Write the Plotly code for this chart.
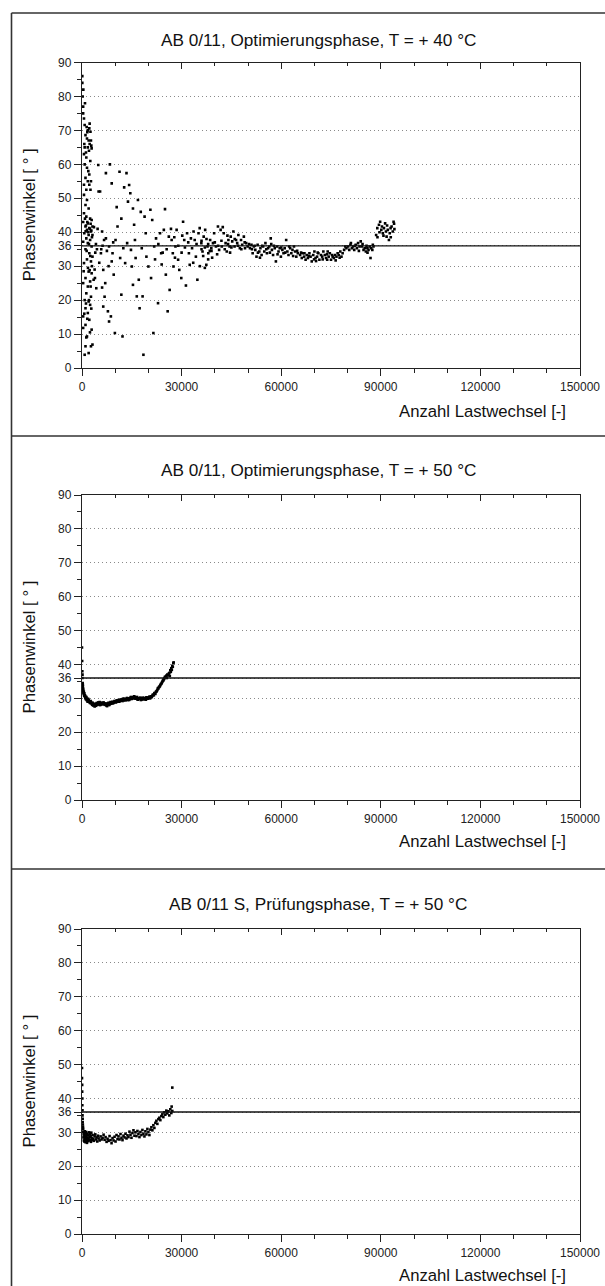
import plotly.graph_objects as go

# ---------------- data ----------------
titles = [
    "AB 0/11, Optimierungsphase, T = + 40 °C",
    "AB 0/11, Optimierungsphase, T = + 50 °C",
    "AB 0/11 S, Prüfungsphase, T = + 50 °C",
]
x_title = "Anzahl Lastwechsel [-]"
y_title = "Phasenwinkel [ ° ]"
x_ticks = [0, 30000, 60000, 90000, 120000, 150000]
y_ticks = [0, 10, 20, 30, 36, 40, 50, 60, 70, 80, 90]
reference_angle = 36

# panel 1: AB 0/11, +40 °C  (Lastwechsel, Phasenwinkel)
panel1 = [
    (100, 86), (100, 84), (350, 77), (350, 75), (600, 73.5), (800, 71.6), (1400, 71), (1750, 70),
    (2200, 70.6), (2550, 69.6), (1050, 68.6), (1500, 67.6), (2000, 67), (2700, 67), (800, 65),
    (1750, 65), (2300, 66), (2900, 64.7), (600, 63), (1300, 62), (800, 60), (1500, 59), (2200, 57),
    (1050, 56), (2700, 55), (1750, 55), (2200, 54), (1300, 52.5), (2550, 52.5), (600, 51),
    (1500, 49.5), (1050, 48), (2000, 47), (600, 45.6), (1300, 44.6), (2450, 44), (350, 43),
    (1750, 42.6), (2900, 43.6), (1050, 41.7), (2200, 41.2), (3150, 41.7), (1500, 40.7), (2700, 40.2),
    (700, 39.7), (2000, 39.2), (3150, 39.2), (1300, 38.2), (2450, 37.7), (350, 37.2), (1750, 36.8),
    (2900, 35.8), (1050, 35), (2200, 33.8), (3150, 32.8), (1500, 32), (2700, 31.4), (600, 30.9),
    (2000, 28.4), (2900, 27.9), (1050, 26.5), (2450, 25.5), (350, 25), (1750, 24), (1300, 22),
    (2700, 21), (800, 20), (2000, 19.6), (2450, 18.6), (1050, 17.6), (1750, 16.2), (350, 15.2),
    (2200, 14.2), (1050, 12.7), (2900, 11.3), (350, 11.8), (1500, 9.3), (1050, 6.4), (2700, 6.4),
    (800, 3.9), (2000, 4.4), (3150, 6.9),
    (1200, 42), (1600, 43), (2400, 41), (2800, 40.5), (900, 44), (1900, 40), (2600, 42.5),
    (1100, 40.3), (3000, 38.5), (2100, 36.5), (1400, 34.5), (2500, 33), (3000, 30), (1800, 29.5),
    (2300, 28.8), (500, 28.5), (2600, 24), (1200, 19), (2100, 20), (2800, 17.5), (700, 16),
    (1600, 14.5), (2400, 10.5), (1300, 9), (600, 54), (1900, 58), (2500, 61), (1200, 63.5),
    (700, 66), (1600, 69.5), (2300, 72), (900, 78), (200, 80), (400, 82), (2800, 65.5), (2100, 64),
    (4900, 59.8), (5450, 52), (6050, 40.2), (5700, 33.8), (6650, 37.7), (6400, 28.9), (6050, 23.7),
    (6400, 18.1), (7200, 38.2), (7200, 57.4), (8400, 60), (8950, 54.4), (7800, 16.7), (8150, 13.7),
    (8700, 15.2), (8150, 35.8), (8950, 31.4), (9550, 27.5), (9200, 33.8), (9900, 10.3),
    (4000, 34), (4500, 35), (3500, 26), (3800, 29), (4200, 36.5), (5000, 52), (3600, 41.5),
    (4700, 41), (5200, 31), (5800, 35), (6200, 36), (7500, 34.5), (8000, 30), (9400, 37),
    (7000, 25), (6800, 21), (4300, 23.5), (3900, 26.5),
    (10100, 37.7), (10450, 47.4), (10700, 41.7), (11300, 57.8), (11850, 44), (11500, 32.4),
    (11850, 21.6), (12200, 9.3), (12450, 35.3), (12700, 53.2), (13000, 30.9), (13400, 57.4),
    (13600, 36.8), (13850, 49), (14200, 53.9), (14550, 51.5), (14750, 34.8), (15000, 29.9),
    (15350, 47), (15350, 24.5), (15700, 42.2), (15950, 37.7), (16150, 32.4), (16500, 21.1),
    (16850, 49.5), (17100, 26), (17350, 17.6), (17700, 46), (18000, 35.3), (18250, 21.1),
    (18500, 3.9), (18850, 44.6), (19200, 39.7), (19400, 32.8), (20000, 29.9),
    (20600, 46.6), (21150, 43.6), (20800, 26.5), (21500, 10.3), (21750, 35.8), (22300, 38.2),
    (22900, 19.1), (23500, 39.7), (23850, 33.8), (24650, 40.7), (25000, 46.8), (25250, 27.5),
    (25800, 16.7), (26150, 38.7), (26400, 23), (27000, 37.7), (27350, 33.8), (27550, 29.9),
    (28150, 35.8), (28500, 40.7), (28950, 31.9), (29300, 28.9), (29900, 26.5), (30450, 43.1),
    (30800, 37.7), (31300, 24.3), (31650, 39.7), (32200, 33.8), (32450, 30.4), (32800, 38.2),
    (33150, 35.3), (33600, 40.2), (33950, 37.7), (34300, 32.8), (34750, 26), (35100, 39.7),
    (22000, 32), (23000, 36.5), (24000, 30.5), (25500, 35), (26800, 41), (27800, 38.5), (29000, 36),
    (30000, 34), (31000, 35.5), (32000, 37), (33500, 31), (34500, 36.5), (24300, 34), (28000, 32.5),
    (30200, 39), (36000, 35), (35500, 30), (37000, 29.5), (36500, 33), (37500, 38), (38000, 32),
    (38500, 34.5),
    (35450, 41.2), (35950, 36.8), (36300, 34.3), (36650, 38.7), (37100, 40.7), (37450, 30.4),
    (37800, 35.8), (38050, 33.8), (38600, 37.7), (38950, 35.3), (39450, 36.8), (39800, 39.7),
    (40350, 35.8), (40950, 41.7), (41300, 34.8), (41750, 40.7), (42100, 35.8), (42700, 39.7),
    (43250, 36.8), (43600, 34.3), (44100, 37.7), (44450, 35.8), (44800, 38.7), (45250, 37.3),
    (45600, 40.2), (45950, 35.8), (46400, 37.7), (46750, 36.8), (47100, 39.2), (47550, 35.3),
    (47900, 37.7), (48250, 36.3), (48750, 38.7), (49100, 35.3), (49450, 36.8), (49900, 35.8),
    (36000, 37.5), (37000, 35.5), (38000, 36.5), (39000, 34.5), (40000, 37), (41000, 36),
    (42000, 37.5), (43000, 35), (44000, 36.5), (45000, 35.5), (46000, 38), (47000, 36), (48000, 35),
    (49000, 37), (42400, 41.5), (43800, 39), (39200, 32.5), (40700, 33.5), (44600, 34),
    (50600, 35.3), (51050, 36.3), (51400, 33.8), (51750, 35.8), (52200, 34.8), (52550, 32.8),
    (52900, 36.3), (53400, 34.3), (53750, 35.3), (54100, 33.3), (54550, 35.8), (54900, 34.3),
    (55250, 36.8), (55700, 33.8), (56050, 35.3), (56400, 35.8), (56850, 38.2), (57200, 34.8),
    (57550, 33.3), (58050, 35.3), (58400, 31.4), (58750, 35.8), (59200, 34.3), (59550, 35.3),
    (59900, 32.8), (60350, 34.8), (60700, 33.8), (61050, 35.3), (61500, 37.7), (61850, 34.3),
    (62200, 33.3), (62700, 35.3), (63050, 33.8), (63400, 34.8), (63850, 35.8), (64200, 34.3),
    (64550, 32.8), (65000, 33.8),
    (50300, 36.5), (51200, 35), (52000, 36), (53000, 34), (54300, 36), (55500, 35), (56600, 34),
    (57800, 36), (58900, 33.5), (60000, 35.5), (61200, 34), (62400, 35.8), (63600, 33), (64800, 34.5),
    (53600, 32.5), (57000, 36.5),
    (65700, 33.3), (66200, 32.4), (66500, 33.8), (66900, 32.8), (67350, 31.9), (67700, 33.3),
    (68050, 32.4), (68500, 33.8), (68850, 32.8), (69200, 31.4), (69650, 33.3), (70000, 34.3),
    (70350, 32.4), (70800, 32.8), (71200, 33.8), (71500, 31.9), (72000, 33.3), (72350, 32.8),
    (72700, 34.3), (73150, 33.3), (73500, 32.4), (73850, 31.9), (74300, 32.8), (74650, 33.8),
    (75000, 31.9), (75500, 32.8), (75850, 32.4), (76200, 33.3), (76650, 32.8), (77000, 33.8),
    (77350, 33.3), (77800, 34.3), (78150, 32.8), (78500, 33.8), (78950, 34.8), (79300, 35.8),
    (79650, 35.3),
    (66000, 34), (67000, 33.8), (68300, 33), (69900, 32), (71000, 34), (72500, 32), (73800, 33.5),
    (75300, 33.3), (76400, 31.7), (77600, 32.5), (74000, 34.3), (70500, 31.5),
    (80150, 35.8), (80500, 34.8), (80850, 36.3), (81300, 35.3), (81650, 35.8), (82000, 34.8),
    (82450, 36.3), (82800, 35.3), (83150, 36.8), (83600, 35.8), (83950, 37.3), (84300, 35.8),
    (84800, 34.8), (85150, 35.3), (85500, 34.3), (85950, 35.3), (86300, 34.8), (86650, 35.8),
    (86900, 32.4), (87100, 35.3), (87450, 34.8), (87800, 35.8),
    (81000, 36.8), (82200, 36), (83400, 34.5), (84500, 36.5), (85700, 36), (86000, 34), (87600, 36.3),
    (88600, 39.2), (88950, 41.2), (89450, 42.2), (89800, 43.1), (90150, 40.7), (90350, 41.7),
    (90600, 39.7), (90950, 41.2), (91300, 42.6), (91550, 40.2), (91750, 38.7), (92100, 40.7),
    (92450, 37.7), (92700, 39.7), (92950, 41.2), (93250, 41.7), (93600, 40.2), (93850, 43.1),
    (94100, 40.9), (89000, 38.5), (89600, 40), (90800, 39), (91900, 42), (93000, 38.5), (94000, 42.5),
]

# panel 2: AB 0/11, +50 °C
panel2 = [
    (0, 45), (50, 41), (100, 38), (150, 36), (200, 34.5), (250, 33.5), (300, 33), (400, 32.2),
    (500, 31.8), (600, 31.2), (700, 31.5), (800, 30.6), (1000, 30.2), (1200, 30.5), (1400, 29.6),
    (1600, 29.9), (1800, 29.2), (2000, 29.5), (2300, 28.8), (2600, 29.2), (2900, 28.4), (3200, 28.7),
    (3500, 28.0), (3800, 27.6), (4100, 28.3), (4400, 28.6), (4700, 28.1), (5000, 28.5), (5300, 28.9),
    (5600, 28.2), (5900, 28.6), (6200, 28.4), (6500, 28.8), (6800, 28.1), (7100, 28.5), (7400, 27.9),
    (7700, 28.4), (8000, 28.7), (8300, 28.2), (8600, 28.9), (8900, 28.6), (9200, 29.0), (9500, 28.7),
    (9800, 29.2), (10100, 28.9), (10400, 29.3), (10700, 29.0), (11000, 29.5), (11300, 29.1),
    (11600, 29.4), (11900, 29.7), (12200, 29.2), (12500, 29.6), (12800, 29.9), (13100, 29.4),
    (13400, 29.8), (13700, 29.5), (14000, 30.0), (14300, 29.7), (14600, 30.2), (14900, 29.8),
    (15200, 30.3), (15500, 30.0), (15800, 30.5), (16100, 29.9), (16400, 30.2), (16700, 29.7),
    (17000, 30.0), (17300, 29.8), (17600, 30.2), (17900, 29.6), (18200, 30.0), (18500, 29.7),
    (18800, 30.1), (19100, 29.8), (19400, 30.3), (19700, 30.0), (20000, 30.2), (20300, 30.5),
    (20600, 30.1), (20900, 30.4), (21200, 30.8), (21500, 31.0), (21800, 31.5), (22100, 31.3),
    (22400, 32.0), (22700, 32.5), (23000, 32.9), (23300, 33.4), (23600, 33.9), (23900, 34.3),
    (24200, 34.9), (24500, 35.3), (24800, 35.9), (25100, 36.2), (25400, 36.7), (25700, 37.0),
    (26000, 36.8), (26300, 37.5), (26600, 38.3), (26900, 38.9), (27200, 39.6), (27500, 40.4),
    (150, 37), (250, 34), (350, 32.6), (450, 31.5), (550, 31.9), (650, 30.8), (900, 30.9),
    (1100, 29.8), (1300, 30.3), (1500, 29.4), (1700, 29.0), (1900, 29.8), (2150, 29.0), (2450, 28.6),
    (2750, 28.9), (3050, 28.1), (3350, 27.9), (3650, 28.4), (3950, 28.0), (4250, 27.8), (4550, 28.4),
    (4850, 28.8), (5150, 28.3), (5450, 28.0), (5750, 28.7), (6050, 28.2), (6350, 28.6), (6650, 28.5),
    (6950, 28.3), (7250, 28.0), (7550, 27.7), (7850, 28.5), (8150, 28.0), (8450, 28.6), (8750, 28.4),
    (9050, 28.8), (9350, 28.5), (9650, 28.9), (9950, 29.1), (10250, 28.8), (10550, 29.4),
    (10850, 29.2), (11150, 29.0), (11450, 29.6), (11750, 29.3), (12050, 29.5), (12350, 29.9),
    (12650, 29.4), (12950, 29.7), (13250, 29.6), (13550, 30.1), (13850, 29.8), (14150, 29.5),
    (14450, 30.0), (14750, 30.4), (15050, 29.9), (15350, 30.1), (15650, 30.6), (15950, 30.3),
    (16250, 29.9), (16550, 30.4), (16850, 29.6), (17150, 30.1), (17450, 29.9), (17750, 29.5),
    (18050, 29.9), (18350, 30.2), (18650, 29.8), (18950, 30.0), (19250, 29.6), (19550, 30.1),
    (19850, 29.9), (20150, 30.3), (20450, 30.0), (20750, 30.6), (21050, 30.4), (21350, 31.1),
    (21650, 30.9), (21950, 31.6), (22250, 31.9), (22550, 32.2), (22850, 33.0), (23150, 33.3),
    (23450, 33.6), (23750, 34.2), (24050, 34.6), (24350, 35.2), (24650, 35.6), (24950, 36.3),
    (25250, 36.5), (25550, 36.0), (25850, 36.9), (26150, 37.3), (26450, 36.6), (26750, 37.8),
    (27050, 38.4), (27350, 39.3), (27600, 40.6),
]

# panel 3: AB 0/11 S, +50 °C
panel3 = [
    (0, 49), (0, 46), (50, 44), (50, 42), (100, 40), (100, 38), (150, 36.5), (150, 35), (200, 34),
    (200, 33), (250, 32.3), (300, 31.6), (350, 31),
    (400, 30.2), (450, 28.5), (500, 29.4), (550, 27.6), (600, 30), (650, 28.8), (700, 27.3),
    (750, 29.6), (800, 28.2), (850, 30.3), (900, 27.8), (950, 29), (1000, 28.4), (1050, 27.1),
    (1100, 29.8), (1150, 28.6), (1200, 27.5), (1250, 30.1), (1300, 28.9), (1350, 27.9), (1400, 29.3),
    (1450, 28.1), (1500, 26.9), (1600, 29.6), (1700, 28.4), (1800, 27.4), (1900, 29.1), (2000, 28),
    (2100, 30), (2200, 27.6), (2300, 28.7), (2400, 29.5), (2500, 27.8), (2600, 28.9), (2700, 27.2),
    (2800, 29.9), (2900, 28.3), (3000, 27.7), (3200, 29.2), (3400, 28.1), (3600, 27.5), (3800, 28.8),
    (4000, 29.4), (4200, 27.9), (4400, 28.5), (4600, 27.3), (4800, 29), (5000, 28.2),
    (5300, 27.6), (5600, 28.8), (5900, 27.9), (6200, 28.4), (6500, 29.3), (6800, 27.8), (7100, 28.6),
    (7400, 27.2), (7700, 28.1), (8000, 27.5), (8300, 28.9), (8600, 27.7), (8900, 26.8), (9200, 28.3),
    (9500, 27.6), (9800, 28.7), (10100, 27.3), (10400, 29.2), (10700, 28), (11000, 28.8),
    (11300, 27.9), (11600, 29.5), (11900, 28.4), (12200, 27.7), (12500, 29),
    (12800, 28.5), (13100, 29.6), (13400, 28.2), (13700, 29.1), (14000, 28.6), (14300, 30.2),
    (14600, 29.3), (14900, 28.4), (15200, 29.8), (15500, 30.6), (15800, 29), (16100, 30),
    (16400, 28.9), (16700, 30.4), (17000, 29.5), (17300, 28.6), (17600, 30.1), (17900, 29.2),
    (18200, 30.7), (18500, 29.6), (18800, 28.8), (19100, 30.3), (19400, 29.4), (19700, 31),
    (20000, 30.1), (20300, 29.2), (20600, 30.8),
    (20900, 31.5), (21200, 30.6), (21500, 32.1), (21800, 31.3), (22100, 32.8), (22400, 33.4),
    (22700, 32.5), (23000, 33.9), (23300, 34.3), (23600, 33.6), (23900, 34.8), (24200, 35.3),
    (24500, 34.5), (24800, 35.9), (25100, 35.2), (25400, 36.4), (25700, 35.6), (26000, 36.2),
    (26300, 35), (26600, 36.8), (26900, 35.7), (27000, 37.6), (27200, 36.3), (27200, 43.2),
]
panels = [panel1, panel2, panel3]

# ---------------- layout geometry (pixels of the 605 x 1286 page) ----------------
W, H = 605, 1286
PX_LEFT, PX_RIGHT = 82, 580
PX_TOP = [62.5, 495, 929]        # y = 90
PX_BOTTOM = [368, 800, 1234]     # y = 0
PX_TITLE = [40, 469.5, 903.5]
PX_XLABEL = [411.5, 841.5, 1275.5]
PX_SEPARATORS = [436, 869]
FRAME_LEFT, FRAME_TOP = 11.5, 13

def px(xp):
    return xp / W

def py(yp):
    return 1 - yp / H

FONT = "Liberation Sans, Arial, Helvetica, sans-serif"
AX_COLOR = "#222222"

fig = go.Figure()
layout = dict(
    width=W, height=H, margin=dict(l=0, r=0, t=0, b=0), autosize=False,
    paper_bgcolor="white", plot_bgcolor="white", showlegend=False,
    font=dict(family=FONT, size=12, color="#111111"),
)
annotations = []
shapes = []

for i, pts in enumerate(panels):
    n = i + 1
    xs = [p[0] for p in pts]
    ys = [p[1] for p in pts]
    xa = "x" if n == 1 else f"x{n}"
    ya = "y" if n == 1 else f"y{n}"
    top_n = n + 3
    fig.add_trace(go.Scatter(
        x=xs, y=ys, mode="markers", xaxis=xa, yaxis=ya,
        marker=dict(symbol="square", size=2.6, color="#000000", line=dict(width=0)),
        hoverinfo="skip",
    ))
    # empty trace to register the top (mirror-tick) axis
    fig.add_trace(go.Scatter(x=[None], y=[None], xaxis=f"x{top_n}", yaxis=ya, mode="markers",
                             hoverinfo="skip"))

    ydom = [py(PX_BOTTOM[i]), py(PX_TOP[i])]
    xdom = [px(PX_LEFT), px(PX_RIGHT)]
    xkey = "xaxis" if n == 1 else f"xaxis{n}"
    ykey = "yaxis" if n == 1 else f"yaxis{n}"
    layout[xkey] = dict(
        domain=xdom, anchor=ya, range=[0, 150000], tickmode="array", tickvals=x_ticks,
        ticktext=[str(v) for v in x_ticks], ticks="outside", ticklen=7, tickwidth=1.2,
        tickcolor=AX_COLOR, showline=True, linecolor=AX_COLOR, linewidth=1.4, mirror=True,
        showgrid=False, zeroline=False, automargin=False, tickfont=dict(size=12, color="#222222"),
        minor=dict(tickmode="linear", tick0=0, dtick=10000, ticks="outside", ticklen=4,
                   tickwidth=1.2, tickcolor=AX_COLOR, showgrid=False),
    )
    layout[f"xaxis{top_n}"] = dict(
        overlaying=xa, side="top", anchor=ya, range=[0, 150000], tickmode="array",
        tickvals=x_ticks, ticks="inside", ticklen=6, tickwidth=1.2, tickcolor=AX_COLOR,
        showticklabels=False, showline=False, showgrid=False, zeroline=False, automargin=False,
        minor=dict(tickmode="linear", tick0=0, dtick=10000, ticks="inside", ticklen=3,
                   tickwidth=1.2, tickcolor=AX_COLOR, showgrid=False),
    )
    layout[ykey] = dict(
        domain=ydom, anchor=xa, range=[0, 90], tickmode="array", tickvals=y_ticks,
        ticktext=[str(v) for v in y_ticks], ticks="outside", ticklen=7, tickwidth=1.2,
        tickcolor=AX_COLOR, showline=True, linecolor=AX_COLOR, linewidth=1.4, mirror=True,
        showgrid=True, gridcolor="#8a8a8a", gridwidth=1, griddash="1px,3px", zeroline=False,
        automargin=False, tickfont=dict(size=12, color="#222222"),
        minor=dict(tickmode="linear", tick0=0, dtick=5, ticks="outside", ticklen=4,
                   tickwidth=1.2, tickcolor=AX_COLOR, showgrid=False),
    )
    # reference line at 36°
    shapes.append(dict(type="line", xref=f"{xa} domain", yref=ya, x0=0, x1=1,
                       y0=reference_angle, y1=reference_angle,
                       line=dict(color="#111111", width=1.3), layer="above"))
    annotations.append(dict(text=titles[i], xref="paper", yref="paper", x=px(318),
                            y=py(PX_TITLE[i]), xanchor="center", yanchor="middle",
                            showarrow=False, font=dict(size=17.2, color="#111111")))
    annotations.append(dict(text=x_title, xref="paper", yref="paper", x=px(568),
                            y=py(PX_XLABEL[i]), xanchor="right", yanchor="middle",
                            showarrow=False, font=dict(size=16.7, color="#111111")))
    annotations.append(dict(text=y_title, xref="paper", yref="paper", x=px(29),
                            y=py((PX_TOP[i] + PX_BOTTOM[i]) / 2), xanchor="center",
                            yanchor="middle", textangle=-90, showarrow=False,
                            font=dict(size=16.7, color="#111111")))

# outer frame and separators
frame_style = dict(color="#333333", width=1.6)
shapes.append(dict(type="line", xref="paper", yref="paper", x0=px(FRAME_LEFT), x1=px(FRAME_LEFT),
                   y0=py(FRAME_TOP), y1=0, line=frame_style))
shapes.append(dict(type="line", xref="paper", yref="paper", x0=px(FRAME_LEFT), x1=1,
                   y0=py(FRAME_TOP), y1=py(FRAME_TOP), line=frame_style))
for s in PX_SEPARATORS:
    shapes.append(dict(type="line", xref="paper", yref="paper", x0=px(FRAME_LEFT), x1=1,
                       y0=py(s), y1=py(s), line=frame_style))

layout["annotations"] = annotations
layout["shapes"] = shapes
fig.update_layout(**layout)
fig.write_html("out.html")
